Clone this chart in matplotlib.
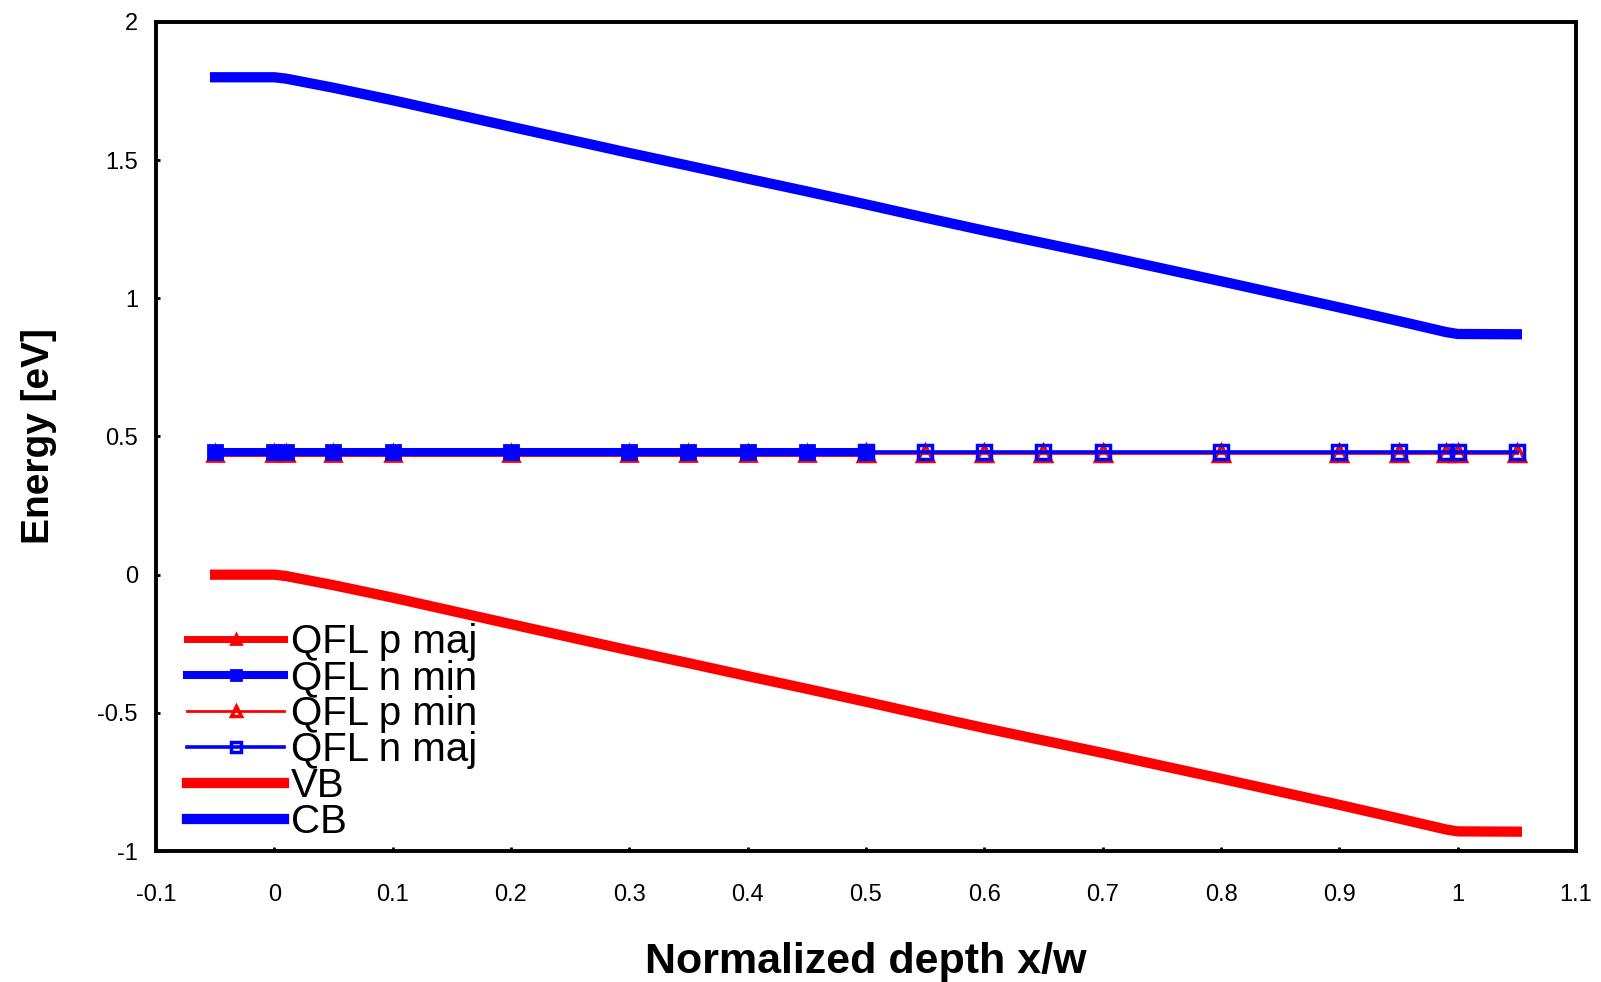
import matplotlib
matplotlib.use("Agg")
import matplotlib.pyplot as plt

# Normalized depth grid (x/w) on which the energies were sampled
depth = [-0.05, 0.0, 0.01, 0.05, 0.1, 0.2, 0.3, 0.35, 0.4, 0.45, 0.5,
         0.55, 0.6, 0.65, 0.7, 0.8, 0.9, 0.95, 0.99, 1.0, 1.05]

# Conduction and valence band edges [eV]
cb = [1.80, 1.80, 1.795, 1.762, 1.717, 1.621, 1.526, 1.480, 1.433, 1.387, 1.340,
      1.292, 1.245, 1.200, 1.155, 1.062, 0.967, 0.918, 0.878, 0.871, 0.870]
vb = [0.0, 0.0, -0.005, -0.038, -0.083, -0.179, -0.274, -0.320, -0.367, -0.413, -0.460,
      -0.508, -0.555, -0.600, -0.645, -0.738, -0.833, -0.882, -0.922, -0.929, -0.930]

# Quasi-Fermi levels: majority/minority branches on each side of x/w = 0.5
depth_left = [-0.05, 0.0, 0.01, 0.05, 0.1, 0.2, 0.3, 0.35, 0.4, 0.45, 0.5]
depth_right = [0.5, 0.55, 0.6, 0.65, 0.7, 0.8, 0.9, 0.95, 0.99, 1.0, 1.05]
qfl_p_maj = [0.439] * 11
qfl_n_min = [0.445] * 11
qfl_p_min = [0.439] * 11
qfl_n_maj = [0.445] * 11

x_ticks = [-0.1, 0.0, 0.1, 0.2, 0.3, 0.4, 0.5, 0.6, 0.7, 0.8, 0.9, 1.0, 1.1]
x_tick_labels = ["-0.1", "0", "0.1", "0.2", "0.3", "0.4", "0.5", "0.6", "0.7",
                 "0.8", "0.9", "1", "1.1"]
y_ticks = [-1.0, -0.5, 0.0, 0.5, 1.0, 1.5, 2.0]
y_tick_labels = ["-1", "-0.5", "0", "0.5", "1", "1.5", "2"]

RED = "#ff0000"
BLUE = "#0000ff"

plt.rcParams["font.family"] = ["Liberation Sans", "DejaVu Sans"]

fig = plt.figure(figsize=(16.01, 9.82), dpi=100)
ax = fig.add_axes([0.0974, 0.1334, 0.8870, 0.8442])

ax.plot(depth_left, qfl_p_maj, color=RED, lw=5.0, marker="^", ms=11,
        mfc=RED, mec=RED, mew=2, label="QFL p maj", zorder=3)
ax.plot(depth_left, qfl_n_min, color=BLUE, lw=5.8, marker="s", ms=10,
        mfc=BLUE, mec=BLUE, mew=2, label="QFL n min", zorder=4)
ax.plot(depth_right, qfl_p_min, color=RED, lw=2.0, marker="^", ms=11,
        mfc="none", mec=RED, mew=2.5, label="QFL p min", zorder=3)
ax.plot(depth_right, qfl_n_maj, color=BLUE, lw=2.6, marker="s", ms=10,
        mfc="none", mec=BLUE, mew=2.5, label="QFL n maj", zorder=4)
ax.plot(depth, vb, color=RED, lw=7.4, label="VB", zorder=2)
ax.plot(depth, cb, color=BLUE, lw=7.4, label="CB", zorder=2)

ax.set_xlim(-0.1, 1.1)
ax.set_ylim(-1.0, 2.0)
ax.set_xticks(x_ticks)
ax.set_xticklabels(x_tick_labels)
ax.set_yticks(y_ticks)
ax.set_yticklabels(y_tick_labels)

ax.tick_params(axis="both", direction="in", length=3, width=2,
               labelsize=17, colors="black")
ax.tick_params(axis="x", pad=24)
ax.tick_params(axis="y", pad=13)
ax.tick_params(axis="x", top=False)
ax.tick_params(axis="y", right=False)
for spine in ax.spines.values():
    spine.set_linewidth(2.8)
    spine.set_color("black")

ax.set_xlabel("Normalized depth x/w", fontsize=31, fontweight="bold")
ax.set_ylabel("Energy [eV]", fontsize=28, fontweight="bold")
ax.xaxis.set_label_coords(0.5, -0.110)
ax.yaxis.set_label_coords(-0.070, 0.5)

leg = ax.legend(loc="upper left", bbox_to_anchor=(0.022, 0.275),
                frameon=False, fontsize=29, handlelength=2.4,
                handletextpad=0.17, labelspacing=-0.05, borderpad=0,
                borderaxespad=0, numpoints=1, markerscale=0.7)

fig.savefig("out.png", dpi=100, facecolor="white")
